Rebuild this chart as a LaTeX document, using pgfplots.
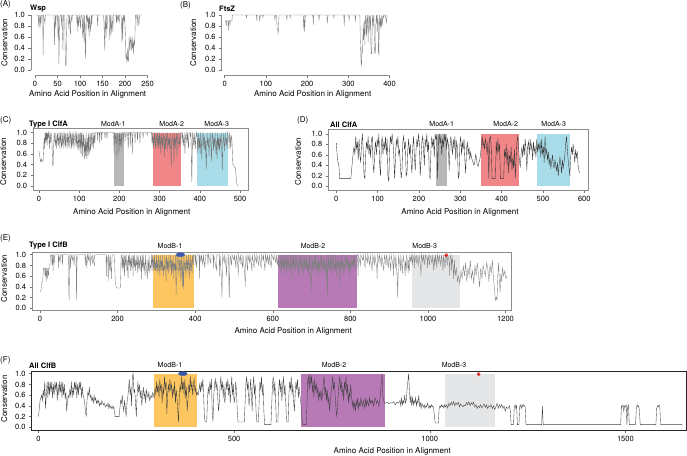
\documentclass[border=0pt]{standalone}
\usepackage{pgfplots}
\pgfplotsset{compat=1.18}
\usepackage{fontspec}
\setmainfont{TeX Gyre Heros}
\definecolor{cModAone}{RGB}{183,183,186}
\definecolor{cModAtwo}{RGB}{240,134,136}
\definecolor{cModAthree}{RGB}{168,220,232}
\definecolor{cModBone}{RGB}{253,198,96}
\definecolor{cModBtwo}{RGB}{183,122,183}
\definecolor{cModBthree}{RGB}{229,230,231}
\definecolor{cBlueMk}{RGB}{58,90,170}
\definecolor{cRedMk}{RGB}{228,38,40}
\pgfplotsset{
  cons/.style={
    scale only axis, anchor=south west,
    label style={font=\fontsize{8}{9}\selectfont},
    tick label style={font=\fontsize{7.5}{8}\selectfont, text=black},
    /pgf/number format/assume math mode=true,
    /pgf/number format/1000 sep={},
    scaled ticks=false,
    tick align=outside,
    major tick length=2.6pt,
    tick style={black!55, line width=0.4pt},
    axis line style={black!45, line width=0.5pt},
    xtick pos=left, ytick pos=left,
    ytick={0,0.2,0.4,0.6,0.8,1},
    yticklabel style={/pgf/number format/.cd, fixed, fixed zerofill, precision=1},
    xlabel={Amino Acid Position in Alignment},
    ylabel={Conservation},
    xlabel style={anchor=center, inner sep=0pt},
    ylabel style={anchor=center, inner sep=0pt},
  },
  dataline/.style={line width=0.35pt, mark=none},
  shade/.style={draw=none, fill=#1},
}
\newcommand{\lab}{\fontsize{7}{8}\selectfont}
\newcommand{\ttl}{\fontsize{7.5}{8}\selectfont\bfseries}
\newcommand{\pan}{\fontsize{8}{9}\selectfont}
\begin{document}
\begin{tikzpicture}
\useasboundingbox (0pt,0pt) rectangle (687pt,455pt);
%================ A: Wsp
\begin{axis}[cons, at={(31pt,380.05pt)}, width=118.8pt, height=62.15pt,
  xmin=-9, xmax=255, ymin=-0.09, ymax=1.04, xtick={0,50,100,150,200,250},
  axis line style={draw=none}, clip=false,
  xlabel style={at={(axis description cs:0.477,-0.311)}},
  ylabel style={at={(axis description cs:-0.223,0.519)}}]
\draw[black!45, line width=0.5pt] (axis cs:0,-0.09) -- (axis cs:250,-0.09);
\draw[black!45, line width=0.5pt] (axis cs:-9,0) -- (axis cs:-9,1);
\addplot[dataline, draw=black!50] coordinates {
(1,1)(7,1)(8,0.8)(9,1)(10,0.9)(11,0.75)(12,1)(13,0.85)(14,1)(17,1)(18,0.27)(19,1)(21,0.9)(22,0.85)(23,1)(42,1)(43,0.45)(44,0.85)(45,1)(46,0.75)(47,1)(50,1)(51,0.6)(52,1)(53,0.1)(54,0.55)(55,0.9)(56,1)(58,1)(59,0.8)(60,1)(62,0.35)(63,1)(66,1)(67,0.3)(68,0.08)(69,0.1)(70,0.6)(71,1)(74,1)(75,0.75)(76,0.9)(77,1)(78,0.7)(79,0.65)(80,1)(82,0.9)(83,1)(92,1)(93,0.85)(94,1)(95,0.7)(96,0.95)(97,0.8)(98,1)(100,0.9)(101,0.75)(102,1)(104,1)(105,0.85)(106,0.6)(107,1)(108,0.7)(109,0.5)(110,1)(111,0.75)(112,0.2)(113,0.55)(114,1)(116,0.9)(117,1)(118,0.75)(119,0.95)(120,0.6)(121,1)(123,0.7)(124,0.85)(125,1)(126,0.8)(127,1)(138,1)(139,0.8)(140,1)(152,1)(153,0.9)(154,0.6)(155,0.35)(156,1)(157,0.8)(158,0.6)(159,1)(160,0.75)(161,0.9)(162,1)(165,1)(166,0.55)(167,0.8)(168,1)(169,0.65)(170,0.75)(171,1)(173,0.7)(174,1)(180,1)(181,0.85)(182,1)(184,0.9)(185,1)(187,0.85)(188,1)(192,1)(193,0.5)(194,0.95)(195,0.55)(196,1)(198,0.9)(199,1)(201,0.6)(202,0.2)(203,0.3)(204,0.15)(205,0.18)(206,0.4)(207,0.15)(208,0.2)(209,0.6)(210,0.5)(211,0.35)(212,0.55)(213,0.6)(214,0.45)(215,0.35)(216,0.6)(217,0.4)(218,0.5)(219,0.3)(220,0.55)(221,0.45)(222,0.6)(223,1)(226,1)(227,0.8)(228,1)(230,0.9)(231,0.8)(232,1)(238,1)
};
\end{axis}
%================ B: FtsZ
\begin{axis}[cons, at={(221.7pt,380.05pt)}, width=172pt, height=62.15pt,
  xmin=-7, xmax=410, ymin=-0.09, ymax=1.04, xtick={0,100,200,300,400},
  axis line style={draw=none}, clip=false,
  xlabel style={at={(axis description cs:0.529,-0.311)}},
  ylabel style={at={(axis description cs:-0.165,0.519)}}]
\draw[black!45, line width=0.5pt] (axis cs:0,-0.09) -- (axis cs:400,-0.09);
\draw[black!45, line width=0.5pt] (axis cs:-7,0) -- (axis cs:-7,1);
\addplot[dataline, draw=black!50] coordinates {
(1,0.9)(3,0.88)(4,0.8)(5,0.9)(8,0.9)(9,0.72)(10,0.88)(12,0.9)(13,0.8)(14,0.9)(18,0.9)(19,1)(52,1)(53,0.95)(54,1)(77,1)(78,0.9)(79,1)(84,1)(85,0.9)(86,0.95)(87,1)(92,1)(93,0.95)(94,1)(121,1)(122,0.9)(123,1)(126,1)(127,0.8)(128,0.75)(129,0.72)(130,0.65)(131,0.85)(132,1)(150,1)(151,0.9)(152,1)(158,1)(159,0.95)(160,1)(190,1)(191,0.9)(192,0.75)(193,1)(194,0.7)(195,0.85)(196,1)(214,1)(215,0.82)(216,1)(228,1)(229,0.9)(230,1)(248,1)(249,0.85)(250,0.95)(251,1)(264,1)(265,0.95)(266,1)(289,1)(290,0.8)(291,1)(301,1)(302,0.9)(303,1)(316,1)(317,0.88)(318,1)(328,1)(329,0.55)(330,0.35)(331,0.1)(332,0.08)(333,0.4)(334,0.3)(335,0.5)(336,0.85)(337,0.55)(338,0.7)(339,0.9)(340,0.45)(341,0.8)(342,1)(343,0.95)(344,0.6)(345,0.8)(346,1)(347,0.9)(348,0.5)(349,0.85)(350,1)(351,0.95)(352,0.7)(353,1)(354,0.9)(355,0.3)(356,0.32)(357,0.3)(358,0.9)(359,1)(360,0.8)(361,0.95)(362,1)(363,0.6)(364,0.3)(365,0.3)(366,0.32)(367,0.9)(368,1)(369,0.85)(370,1)(371,0.7)(372,0.95)(373,0.3)(374,0.28)(375,0.8)(376,1)(377,0.8)(378,0.95)(379,0.75)(380,0.85)(381,1)(382,0.8)(383,0.9)(384,1)(386,0.95)(387,1)(390,1)(392,0.85)(394,1)(396,1)
};
\end{axis}
%================ C: Type I ClfA
\begin{axis}[cons, at={(33.3pt,265pt)}, width=215pt, height=61.7pt,
  xmin=-14.2, xmax=520.6, ymin=-0.08, ymax=1.08, xtick={0,100,200,300,400,500},
  xlabel style={at={(axis description cs:0.458,-0.361)}},
  ylabel style={at={(axis description cs:-0.14,0.459)}}]
\addplot[shade=cModAone] coordinates {(187,0)(187,1)(212,1)(212,0)} -- cycle;
\addplot[shade=cModAtwo] coordinates {(284,0)(284,1)(353,1)(353,0)} -- cycle;
\addplot[shade=cModAthree] coordinates {(393,0)(393,1)(470,1)(470,0)} -- cycle;
\addplot[dataline, draw=black!55] coordinates {
(0,0.65)(2,0.55)(4,0.45)(6,0.5)(8,0.45)(10,0.45)(12,0.8)(13,0.9)(14,0.7)(15,1)(16,0.8)(17,1)(18,0.85)(19,1)(20,0.75)(21,1)(22,0.9)(24,1)(26,0.7)(27,1)(28,0.8)(30,1)(32,0.85)(34,0.4)(35,0.38)(36,0.7)(38,1)(40,0.8)(41,0.75)(42,1)(44,0.7)(45,0.85)(46,1)(48,0.75)(49,0.9)(50,1)(52,0.7)(53,1)(55,0.8)(56,0.7)(57,1)(59,0.75)(60,1)(62,0.7)(63,0.9)(64,1)(66,0.72)(67,1)(69,0.8)(70,0.7)(71,1)(73,0.75)(74,0.95)(75,1)(77,0.7)(78,1)(80,0.85)(81,0.7)(82,1)(84,0.75)(85,1)(87,0.7)(88,0.9)(90,1)(92,0.75)(93,1)(95,0.7)(96,0.8)(97,1)(99,0.65)(100,1)(102,0.7)(103,1)(104,0.6)(105,0.9)(106,1)(107,0.65)(108,0.55)(109,1)(110,0.75)(111,0.95)(112,0.6)(113,0.5)(114,0.9)(116,0.55)(117,1)(118,0.65)(119,0.5)(120,0.9)(121,0.8)(122,0.55)(123,1)(124,0.7)(125,0.6)(126,0.9)(127,1)(128,0.65)(129,0.75)(130,1)(132,0.75)(133,0.8)(134,1)(136,0.7)(137,1)(139,0.8)(140,1)(145,1)(146,0.85)(147,1)(150,1)(151,0.8)(152,1)(155,1)(156,0.85)(157,1)(163,1)(164,0.9)(165,1)(168,1)(169,0.88)(170,1)(185,1)(186,0.85)(187,0.6)(188,1)(190,0.8)(191,1)(193,0.85)(194,0.5)(195,0.9)(196,1)(198,0.8)(199,0.6)(200,1)(202,0.75)(203,0.85)(204,1)(206,0.7)(207,1)(210,1)(211,0.8)(212,1)(215,1)(216,0.85)(217,1)(220,1)(221,0.9)(222,0.7)(223,1)(226,1)(227,0.75)(228,1)(231,1)(232,0.6)(233,0.9)(234,1)(238,1)(239,0.8)(240,1)(244,1)(245,0.85)(246,1)(250,1)(251,0.8)(252,1)(258,1)(259,0.9)(260,1)(268,1)(269,0.95)(270,1)(280,1)(281,0.8)(282,1)(284,0.7)(285,0.9)(286,0.75)(287,1)(289,0.8)(290,0.7)(291,1)(293,0.85)(294,0.7)(295,1)(297,0.75)(298,0.95)(299,0.7)(300,1)(302,0.8)(303,0.6)(304,1)(306,0.75)(307,0.9)(308,0.7)(309,1)(311,0.8)(312,0.55)(313,0.95)(315,0.7)(316,1)(318,0.8)(319,0.65)(320,1)(322,0.75)(323,0.9)(325,0.7)(326,1)(328,0.6)(329,0.35)(330,0.8)(331,1)(333,0.75)(334,0.9)(336,0.45)(337,1)(339,0.7)(340,0.85)(342,1)(343,0.55)(344,0.8)(346,1)(348,0.7)(349,0.9)(351,0.75)(352,1)(355,1)(356,0.8)(357,1)(360,0.75)(361,1)(363,0.6)(364,0.9)(366,1)(368,0.8)(369,1)(372,0.7)(373,1)(376,1)(377,0.9)(378,1)(379,0.5)(380,0.07)(381,0.5)(382,1)(385,0.75)(386,1)(389,0.7)(390,0.9)(392,1)(394,0.8)(395,0.6)(396,1)(398,0.7)(399,0.9)(401,0.6)(402,1)(404,0.75)(405,0.5)(406,0.9)(408,1)(410,0.7)(411,0.95)(413,0.65)(414,0.85)(416,0.3)(417,0.6)(418,1)(420,0.75)(421,0.9)(423,0.55)(424,0.8)(426,1)(428,0.7)(429,0.45)(430,0.85)(432,1)(434,0.65)(435,0.9)(437,0.75)(438,1)(440,0.6)(441,0.85)(443,0.5)(444,1)(446,0.7)(447,0.9)(449,0.65)(450,0.95)(452,0.75)(453,1)(455,0.55)(456,0.3)(457,0.7)(458,1)(460,0.8)(461,0.65)(463,1)(465,0.75)(466,0.9)(468,0.7)(469,1)(472,0.9)(473,0.7)(474,1)(476,0.85)(477,0.7)(478,0.95)(480,0.85)(482,0.4)(484,0.4)(486,0.35)(488,0.35)(490,0.2)(492,0.05)(494,0.0)
};
\end{axis}
%================ D: All ClfA
\begin{axis}[cons, at={(328.3pt,264.5pt)}, width=259.7pt, height=61pt,
  xmin=-19.4, xmax=609, ymin=-0.08, ymax=1.08, xtick={0,100,200,300,400,500,600},
  xlabel style={at={(axis description cs:0.507,-0.357)}},
  ylabel style={at={(axis description cs:-0.117,0.472)}}]
\addplot[shade=cModAone] coordinates {(241,0)(241,1)(269,1)(269,0)} -- cycle;
\addplot[shade=cModAtwo] coordinates {(351,0)(351,1)(443,1)(443,0)} -- cycle;
\addplot[shade=cModAthree] coordinates {(486,0)(486,1)(565,1)(565,0)} -- cycle;
\addplot[dataline, draw=black!80] coordinates {
(0,0.82)(2,0.6)(4,0.45)(6,0.42)(8,0.15)(35,0.15)(38,0.4)(41,0.65)(43,0.75)(45,0.6)(47,0.95)(49,0.7)(51,0.85)(53,0.5)(55,0.9)(57,0.6)(59,0.45)(61,0.8)(63,1)(65,0.7)(67,0.2)(69,0.15)(71,0.6)(73,0.85)(75,0.7)(77,0.95)(79,0.6)(81,0.8)(83,0.55)(85,0.9)(87,0.95)(89,0.4)(91,0.25)(93,0.7)(95,0.85)(97,0.6)(99,0.9)(101,0.75)(103,1)(105,0.4)(107,0.2)(109,0.8)(111,0.95)(113,0.6)(115,0.85)(117,0.7)(119,0.95)(121,0.6)(123,0.9)(125,0.15)(127,0.1)(129,0.7)(131,0.95)(133,0.8)(135,1)(137,0.85)(139,0.6)(141,0.15)(143,0.5)(145,0.9)(147,0.75)(149,0.95)(151,0.6)(153,0.7)(155,0.4)(157,0.15)(159,0.3)(161,0.85)(163,0.95)(165,0.7)(167,0.85)(169,0.2)(171,0.25)(173,0.7)(175,0.9)(177,0.6)(179,0.8)(181,0.45)(183,0.25)(185,0.75)(187,0.95)(189,0.55)(191,0.3)(193,0.7)(195,0.9)(197,0.75)(199,1)(201,0.8)(203,0.2)(205,0.5)(207,0.85)(209,0.95)(211,0.7)(213,0.4)(215,0.9)(217,0.75)(219,1)(221,0.65)(223,0.85)(225,0.2)(227,0.15)(229,0.7)(231,0.95)(233,0.75)(235,0.9)(237,0.55)(239,1)(241,0.9)(243,0.95)(245,0.15)(247,0.85)(249,1)(251,0.8)(253,0.95)(255,0.6)(257,0.9)(259,0.75)(261,1)(263,0.85)(265,0.95)(267,0.7)(269,0.9)(271,0.8)(273,0.3)(275,0.75)(277,0.95)(279,0.8)(281,0.6)(283,0.9)(285,0.7)(287,0.95)(289,0.5)(291,0.85)(293,0.75)(295,0.15)(297,0.2)(299,0.8)(301,0.95)(303,0.6)(305,0.85)(307,0.7)(309,0.9)(311,0.5)(313,0.25)(315,0.7)(317,0.85)(319,0.6)(321,0.75)(323,0.5)(325,0.65)(327,0.55)(329,0.5)(331,0.45)(333,0.4)(335,0.45)(337,0.6)(339,0.55)(341,0.4)(343,0.38)(345,0.45)(347,0.5)(349,0.6)(351,0.8)(353,0.95)(355,0.75)(357,0.85)(359,0.7)(361,0.9)(363,0.8)(365,0.6)(367,0.85)(369,0.15)(371,0.9)(373,0.95)(375,0.7)(377,0.15)(379,0.15)(385,0.15)(387,0.85)(389,0.6)(391,0.9)(393,0.65)(395,0.8)(397,0.15)(405,0.15)(407,0.7)(409,0.55)(411,0.8)(413,0.4)(415,0.7)(417,0.25)(419,0.6)(421,0.45)(423,0.75)(425,0.3)(427,0.55)(429,0.35)(431,0.7)(433,0.15)(435,0.5)(437,0.85)(439,0.95)(441,0.75)(443,0.5)(445,0.35)(447,0.6)(449,0.75)(451,0.55)(453,0.8)(455,0.6)(457,0.9)(459,0.7)(461,0.3)(463,0.75)(465,0.85)(467,0.6)(469,0.9)(471,0.7)(473,0.8)(475,0.5)(477,0.85)(479,0.65)(481,0.75)(483,0.55)(485,0.9)(487,0.65)(489,0.8)(491,0.7)(493,0.85)(495,0.55)(497,0.9)(499,0.6)(501,0.75)(503,0.45)(505,0.95)(507,0.6)(509,0.7)(511,0.5)(513,0.65)(515,0.4)(517,0.55)(519,0.35)(521,0.45)(523,0.6)(525,0.4)(527,0.35)(529,0.5)(531,0.4)(533,0.3)(535,0.45)(537,0.2)(539,0.4)(541,0.55)(543,0.45)(545,0.25)(547,0.5)(549,0.35)(551,0.45)(553,0.6)(555,0.8)(557,0.95)(559,0.7)(561,0.5)(563,0.35)(565,0.2)(567,0.55)(569,0.75)(571,0.6)(573,0.8)(575,0.65)(577,0.45)(579,0.7)(581,0.55)(583,0.65)(585,0.4)(587,0.3)(589,0.25)
};
\end{axis}
%================ E: Type I ClfB
\begin{axis}[cons, at={(32.3pt,144.5pt)}, width=478.7pt, height=58.5pt,
  xmin=-19.8, xmax=1214, ymin=-0.041, ymax=1.05, xtick={0,200,400,600,800,1000,1200},
  xlabel style={at={(axis description cs:0.545,-0.356)}},
  ylabel style={at={(axis description cs:-0.059,0.544)}}]
\addplot[shade=cModBone] coordinates {(292,0)(292,1)(398,1)(398,0)} -- cycle;
\addplot[shade=cModBtwo] coordinates {(613,0)(613,1)(818,1)(818,0)} -- cycle;
\addplot[shade=cModBthree] coordinates {(959,0)(959,1)(1082,1)(1082,0)} -- cycle;
\addplot[dataline, draw=black!50] coordinates {
(0,0.3)(3,0.35)(5,0.5)(7,0.5)(9,0.75)(12,0.75)(13,0.6)(14,0.75)(16,0.5)(17,0.75)(19,0.55)(20,0.75)(22,0.6)(23,0.75)(25,0.75)(27,1)
(30,1)(31,0.8)(32,1)(34,0.7)(35,1)(37,0.85)(38,1)
(47,1)(48,0.75)(49,1)(52,0.85)(53,1)(57,1)(58,0.8)(59,1)
(73,1)(74,0.4)(75,0.15)(76,0.6)(77,1)(79,0.75)(80,1)(84,0.9)(85,1)(88,0.8)(89,1)
(93,1)(94,0.15)(95,0.7)(96,1)
(116,1)(117,0.8)(118,1)(121,0.75)(122,1)(125,0.9)(126,1)(130,0.8)(131,1)(135,0.85)(136,1)(140,0.78)(141,1)
(170,1)(171,0.6)(172,1)(175,0.85)(176,0.5)(177,1)(180,0.7)(181,1)(184,0.55)(185,0.8)(186,1)
(192,1)(193,0.7)(194,0.5)(197,0.38)(207,0.38)(208,0.6)(209,1)
(211,1)(212,0.7)(213,0.95)(215,0.75)(216,1)(218,0.6)(219,1)(221,0.8)(222,1)(224,0.7)(225,0.9)(227,0.55)(228,1)(230,0.8)(231,1)(233,0.7)(234,0.95)(236,0.75)(237,1)(239,0.85)(240,0.6)(241,1)(243,0.75)(244,1)(246,0.7)(247,0.9)(249,0.8)(250,1)(252,0.65)(253,1)(255,0.75)(256,0.9)(258,0.7)(259,1)(261,0.8)(262,0.55)(263,1)(265,0.75)(266,1)(268,0.7)(269,0.85)(271,0.6)(272,1)(274,0.8)(275,0.7)(277,0.55)(278,0.9)(280,0.7)(281,1)(283,0.65)(284,0.8)(286,0.75)(287,1)
(289,0.7)(290,1)(292,0.75)(293,0.9)(294,0.7)(295,1)(297,0.7)(298,0.85)(299,0.7)(300,1)(302,0.65)(303,0.9)(305,0.7)(306,1)(308,0.75)(309,0.6)(310,1)(312,0.7)(313,0.9)(315,0.7)(316,1)(318,0.6)(319,0.8)(321,0.7)(322,1)(324,0.75)(325,0.5)(326,1)(328,0.7)(329,0.9)(331,0.65)(332,1)(334,0.8)(335,0.7)(337,1)(339,0.6)(340,0.9)(342,0.7)(343,1)(345,0.55)(346,0.85)(348,0.7)(349,1)(351,0.25)(352,0.7)(353,1)(355,0.8)(356,0.6)(358,1)(360,0.7)(361,0.9)(363,0.5)(364,1)(366,0.7)(367,0.4)(368,0.9)(370,0.35)(371,1)(373,0.7)(374,0.85)(376,0.6)(377,1)(379,0.7)(380,0.9)(382,0.65)(383,1)(385,0.75)(386,0.55)(387,1)(389,0.7)(390,0.9)(392,0.65)(393,1)(395,0.8)(396,1)
(399,1)(400,0.8)(401,1)(404,0.75)(405,1)(410,1)(411,0.55)(412,1)(415,0.85)(416,1)(420,0.8)(421,1)(425,0.75)(426,0.9)(427,1)(432,1)(433,0.8)(434,1)(440,0.85)(441,1)(446,1)(447,0.75)(448,1)(455,0.7)(456,1)(462,1)(463,0.6)(464,1)(468,0.5)(469,0.2)(470,0.6)(471,1)(475,0.85)(476,1)(480,0.75)(481,0.6)(482,1)
(486,1)(487,0.4)(488,0.2)(489,0.7)(490,1)(494,0.8)(495,1)(500,0.9)(501,1)(505,0.75)(506,1)(510,0.8)(511,0.6)(512,1)(516,0.85)(517,1)(522,0.75)(523,1)(528,0.6)(529,0.4)(530,0.8)(531,1)(535,0.7)(536,1)(540,0.85)(541,1)(545,0.8)(546,0.7)(547,1)(552,0.75)(553,1)(558,0.85)(559,1)(564,0.8)(565,1)(570,0.75)(571,1)(575,0.9)(576,1)(580,0.7)(581,1)(585,0.85)(586,1)(590,0.8)(591,1)(596,0.75)(597,1)(602,0.9)(603,1)(608,0.85)(609,1)
(612,0.8)(614,1)(616,0.75)(617,0.9)(619,0.7)(620,1)(622,0.8)(623,0.65)(624,1)(626,0.75)(627,1)(629,0.7)(630,0.9)(632,0.7)(633,1)(635,0.8)(636,0.6)(637,1)(639,0.75)(640,1)(642,0.7)(643,0.85)(645,0.7)(646,1)(648,0.8)(649,0.55)(650,1)(652,0.75)(653,1)(655,0.7)(656,0.9)(658,0.7)(659,1)(661,0.8)(662,1)(664,0.7)(665,0.85)(667,0.6)(668,1)(670,0.75)(671,1)(673,0.7)(674,0.9)(676,0.7)(677,1)(679,0.8)(680,0.6)(681,1)(683,0.7)(684,0.9)(686,0.75)(687,1)(689,0.7)(690,0.85)(692,0.6)(693,1)(695,0.75)(696,1)(698,0.5)(699,0.3)(700,0.8)(701,1)(703,0.7)(704,0.9)(706,0.65)(707,1)(709,0.75)(710,1)(712,0.7)(713,0.85)(715,0.7)(716,1)(718,0.6)(719,0.9)(721,0.7)(722,1)(724,0.8)(725,0.65)(726,1)(728,0.75)(729,0.9)(731,0.7)(732,1)(734,0.7)(735,0.85)(737,0.5)(738,1)(740,0.75)(741,0.2)(742,0.8)(743,1)(745,0.7)(746,0.9)(748,0.7)(749,1)(751,0.8)(752,0.6)(753,1)(755,0.75)(756,1)(758,0.7)(759,0.85)(761,0.7)(762,1)(764,0.6)(765,0.9)(767,0.75)(768,1)(770,0.7)(771,0.85)(773,0.4)(774,1)(776,0.7)(777,0.9)(779,0.75)(780,1)(782,0.65)(783,0.85)(785,0.7)(786,1)(788,0.8)(789,0.7)(790,1)(792,0.75)(793,0.9)(795,0.7)(796,1)(798,0.6)(799,0.85)(801,0.75)(802,1)(804,0.7)(805,0.9)(807,0.8)(808,1)(810,0.7)(811,1)(813,0.8)(814,0.75)(815,1)
(818,1)(819,0.85)(820,0.6)(821,1)(826,0.8)(827,1)(832,0.9)(833,1)(838,0.75)(839,1)(844,0.85)(845,1)(850,0.8)(851,1)(856,0.7)(857,0.9)(858,1)(862,0.8)(863,1)(868,0.75)(869,0.55)(870,1)(874,0.85)(875,1)(880,0.8)(881,1)(886,0.7)(887,0.85)(888,1)(892,0.8)(893,1)(898,0.75)(899,0.9)(900,1)(904,0.7)(905,1)(910,0.8)(911,0.6)(912,1)(916,0.75)(917,1)(921,0.5)(922,0.2)(923,0.6)(924,1)(928,0.8)(929,0.7)(930,1)(934,0.65)(935,0.85)(936,1)(940,0.75)(941,0.6)(942,0.9)(944,0.7)(945,1)(948,0.8)(949,0.65)(950,0.9)(952,0.7)(953,1)
(956,0.85)(957,1)(960,0.8)(961,1)(964,0.9)(965,0.75)(966,1)(970,0.85)(971,1)(975,0.8)(976,0.9)(977,1)(981,0.75)(982,0.6)(983,1)(987,0.85)(988,1)(992,0.8)(993,1)(998,0.9)(999,0.75)(1000,1)(1004,0.8)(1005,1)(1010,0.85)(1011,1)(1015,0.7)(1016,0.95)(1018,0.8)(1019,1)(1023,0.75)(1024,1)(1028,0.85)(1029,1)(1033,0.8)(1034,0.9)(1035,1)(1039,0.7)(1040,1)(1044,0.75)(1045,0.9)(1046,1)(1050,0.8)(1051,1)(1055,0.85)(1056,0.6)(1057,1)(1060,0.9)(1061,0.7)(1062,1)(1065,0.75)(1066,0.55)(1068,0.9)(1070,0.6)
(1073,0.75)(1076,0.5)(1079,0.6)(1082,0.45)(1085,0.7)(1088,0.55)(1091,0.8)(1094,0.6)(1097,0.85)(1100,0.5)(1103,0.75)(1106,0.6)(1109,0.9)(1112,0.55)(1115,0.7)(1118,0.45)(1121,0.8)(1124,0.6)(1127,0.85)(1130,0.65)(1133,0.4)(1136,0.75)(1139,0.55)(1142,0.8)(1145,0.7)(1148,0.6)(1151,0.85)(1154,0.75)(1157,0.5)(1160,0.8)(1163,0.65)(1166,0.9)(1169,0.55)(1172,0.3)(1174,0.15)(1176,0.2)(1178,0.15)(1180,0.6)(1182,0.85)(1184,0.5)(1186,0.3)(1188,0.65)(1190,0.5)(1192,0.75)(1195,0.6)(1198,0.7)(1201,0.55)(1204,0.6)
};
\addplot[only marks, mark=*, mark size=2pt, mark options={xscale=2.2, fill=cBlueMk, draw=cBlueMk}] coordinates {(362,1.0)};
\addplot[only marks, mark=*, mark size=1.6pt, mark options={fill=cRedMk, draw=cRedMk}] coordinates {(1047,0.99)};
\end{axis}
%================ F: All ClfB
\begin{axis}[cons, at={(31.7pt,25pt)}, width=654.3pt, height=59pt,
  xmin=-17.4, xmax=1655, ymin=-0.05, ymax=1.05, xtick={0,500,1000,1500},
  axis line style={black!85},
  xlabel style={at={(axis description cs:0.551,-0.356)}},
  ylabel style={at={(axis description cs:-0.042,0.525)}}]
\addplot[shade=cModBone] coordinates {(295,0)(295,1)(406,1)(406,0)} -- cycle;
\addplot[shade=cModBtwo] coordinates {(672,0)(672,1)(886,1)(886,0)} -- cycle;
\addplot[shade=cModBthree] coordinates {(1040,0)(1040,1)(1167,1)(1167,0)} -- cycle;
\addplot[dataline, draw=black!75] coordinates {
(0,0.2)(2,0.35)(4,0.5)(6,0.55)(8,0.6)(10,0.5)(12,0.7)(14,0.55)(16,0.85)(18,0.35)(20,0.6)(22,0.85)(24,0.55)(26,0.85)(28,0.6)(30,0.85)(32,0.65)(34,0.85)(36,0.55)(38,0.8)(40,0.6)(42,0.85)(44,0.7)(46,0.85)(48,0.5)(50,0.8)(52,0.6)(54,0.85)(56,0.65)(58,0.85)(60,0.55)(62,0.85)(64,0.6)(66,0.8)(68,0.55)(70,0.65)(72,0.3)(74,0.5)(76,0.6)(78,0.55)(80,0.7)(82,0.6)(84,0.85)(86,0.55)(88,0.75)(90,0.6)(92,0.85)(94,0.7)(96,0.85)(98,0.55)(100,0.8)(102,0.6)(104,0.85)(106,0.7)(108,0.85)(110,0.55)(112,0.75)(114,0.6)(116,0.55)(118,0.45)(120,0.3)(122,0.2)(124,0.5)(126,0.65)(128,0.6)(130,0.75)(132,0.55)(134,0.6)(136,0.5)(138,0.55)(140,0.45)(142,0.6)(144,0.5)(146,0.55)(148,0.45)(150,0.5)(152,0.45)(154,0.5)(156,0.4)(158,0.45)(160,0.42)(162,0.5)(164,0.45)(166,0.42)(168,0.45)(170,0.4)(172,0.38)(174,0.42)(176,0.4)(178,0.45)(180,0.35)(182,0.42)(184,0.38)(186,0.35)(188,0.4)(190,0.35)(192,0.38)(194,0.3)(196,0.2)(206,0.2)(208,0.35)(210,0.5)(212,0.45)(214,0.6)(216,0.4)(218,0.3)(220,0.5)(222,0.35)(224,0.2)(226,0.45)(228,0.55)(230,0.7)(232,0.9)(234,0.6)(236,0.75)(238,0.4)(240,0.95)(242,1)(244,0.65)(246,0.7)(248,0.45)(250,0.2)(252,0.6)(254,0.85)(256,0.65)(258,0.8)(260,0.55)(262,0.7)(264,0.4)(266,0.6)(268,0.75)(270,0.55)(272,0.65)(274,0.45)(276,0.7)(278,0.6)(280,0.55)(282,0.65)(284,0.5)(286,0.55)(288,0.6)(290,0.55)(292,0.65)
(294,0.6)(296,0.55)(298,0.75)(300,0.6)(302,0.85)(304,0.65)(306,0.8)(308,0.55)(310,0.9)(312,0.7)(314,0.8)(316,0.45)(318,0.75)(320,0.6)(322,0.95)(324,0.7)(326,0.85)(328,0.25)(330,0.6)(332,0.8)(334,0.65)(336,0.9)(338,0.7)(340,0.8)(342,0.55)(344,0.75)(346,0.6)(348,0.85)(350,0.45)(352,0.7)(354,0.55)(356,0.3)(358,0.1)(360,0.6)(362,0.8)(364,0.65)(366,0.95)(368,0.7)(370,0.85)(372,0.6)(374,0.9)(376,0.55)(378,0.75)(380,0.3)(382,0.5)(384,0.8)(386,0.65)(388,0.95)(390,0.7)(392,0.85)(394,0.6)(396,0.8)(398,0.9)(400,0.65)(402,0.75)(404,0.6)(406,0.65)
(408,0.6)(410,0.7)(412,0.8)(414,0.65)(416,0.85)(418,0.7)(420,0.9)(422,0.6)(424,0.2)(426,0.1)(430,0.1)(432,0.55)(434,0.75)(436,0.6)(438,0.85)(440,0.7)(442,0.9)(444,0.3)(446,0.1)(448,0.6)(450,0.8)(452,0.9)(454,0.7)(456,0.85)(458,0.6)(460,0.3)(462,0.45)(464,0.75)(466,0.95)(468,0.7)(470,0.85)(472,0.55)(474,0.8)(476,0.45)(478,0.6)(480,0.85)(482,0.7)(484,0.9)(486,0.6)(488,0.8)(490,0.45)(492,0.7)(494,0.95)(496,0.6)(498,0.8)(500,0.45)
(502,0.55)(504,0.85)(506,0.7)(508,0.3)(510,0.1)(526,0.1)(528,0.45)(530,0.8)(532,0.95)(534,0.7)(536,0.85)(538,0.4)(540,0.55)(542,0.9)(544,0.65)(546,0.3)(548,0.75)(550,0.95)(552,0.6)(554,0.8)(556,0.3)(558,0.1)(562,0.1)(564,0.5)(566,0.85)(568,0.7)(570,0.95)(572,0.6)(574,0.8)(576,0.3)(578,0.05)(594,0.05)(596,0.4)(598,0.8)(600,0.95)(602,0.6)(604,0.85)(606,0.5)(608,0.1)(612,0.1)(614,0.7)(616,0.9)(618,0.65)(620,0.85)(622,0.5)(624,0.75)(626,0.95)(628,0.6)(630,0.8)(632,0.45)(634,0.1)(638,0.1)(640,0.6)(642,0.85)(644,0.7)(646,0.95)(648,0.6)(650,0.8)(652,0.5)(654,0.3)(656,0.6)(658,0.85)(660,0.7)(662,0.9)(664,0.55)(666,0.75)(668,0.6)(670,0.5)
(672,0.3)(674,0.1)(676,0.05)(684,0.05)(686,0.4)(688,0.85)(690,0.95)(692,0.7)(694,1)(696,0.8)(698,0.95)(700,0.65)(702,0.85)(704,0.55)(706,0.9)(708,0.7)(710,0.8)(712,0.6)(714,0.75)(716,0.5)(718,0.65)(720,0.55)(722,0.7)(724,0.5)(726,0.6)(728,0.85)(730,0.95)(732,0.6)(734,0.75)(736,0.5)(738,0.7)(740,0.45)(742,0.55)(744,0.3)(746,0.5)(748,0.65)(750,0.8)(752,0.95)(754,0.7)(756,0.85)(758,0.6)(760,0.4)(762,0.2)(764,0.35)(766,0.6)(768,0.8)(770,0.95)(772,0.7)(774,0.85)(776,0.6)(778,0.75)(780,0.5)(782,0.85)(784,0.7)(786,0.95)(788,0.6)(790,0.8)(792,0.45)(794,0.65)(796,0.55)(798,0.8)(800,0.6)(802,0.4)(804,0.5)(806,0.35)(808,0.45)(810,0.3)(812,0.5)(814,0.4)(816,0.55)(818,0.35)(820,0.45)(822,0.4)(824,0.55)(826,0.45)(828,0.4)(830,0.5)(832,0.45)(834,0.35)(836,0.55)(838,0.4)(840,0.5)(842,0.45)(844,0.4)(846,0.55)(848,0.45)(850,0.5)(852,0.45)(854,0.5)(856,0.4)(858,0.45)(860,0.55)(862,0.5)(864,0.45)(866,0.5)(868,0.45)(870,0.4)(872,0.5)(874,0.6)(876,0.85)(878,1)(880,0.6)(882,0.5)(884,0.47)(886,0.45)
(888,0.45)(892,0.47)(896,0.44)(900,0.46)(904,0.45)(908,0.48)(912,0.42)(916,0.47)(920,0.45)(924,0.5)(926,0.4)(928,0.55)(930,0.42)(932,0.5)(934,0.45)(936,0.6)(938,0.45)(940,0.5)(942,0.7)(944,0.85)(946,1)(948,0.7)(950,0.45)(952,0.6)(954,0.4)(956,0.55)(958,0.42)(960,0.5)(962,0.45)(964,0.55)(966,0.4)(968,0.5)(970,0.45)(972,0.6)(974,0.4)(976,0.45)(978,0.35)(980,0.45)(982,0.4)(984,0.38)(986,0.42)(988,0.35)(990,0.4)(992,0.38)(994,0.45)(996,0.4)(998,0.35)(1000,0.4)(1002,0.37)(1004,0.42)(1006,0.38)(1008,0.4)(1010,0.35)(1012,0.2)(1014,0.08)(1022,0.08)(1024,0.35)(1026,0.4)(1028,0.37)(1030,0.42)(1032,0.38)(1034,0.4)(1036,0.36)(1038,0.42)
(1040,0.38)(1043,0.42)(1046,0.36)(1049,0.45)(1052,0.4)(1055,0.47)(1058,0.42)(1061,0.48)(1064,0.4)(1067,0.46)(1070,0.42)(1073,0.47)(1076,0.38)(1079,0.44)(1082,0.4)(1085,0.38)(1088,0.42)(1091,0.4)(1094,0.46)(1097,0.42)(1100,0.48)(1103,0.4)(1106,0.46)(1109,0.42)(1112,0.47)(1115,0.38)(1118,0.42)(1121,0.35)(1124,0.4)(1127,0.37)(1130,0.42)(1133,0.36)(1136,0.4)(1139,0.44)(1142,0.37)(1145,0.42)(1148,0.35)(1151,0.4)(1154,0.38)(1157,0.42)(1160,0.35)(1163,0.4)(1166,0.33)
(1169,0.38)(1172,0.45)(1175,0.35)(1178,0.42)(1181,0.37)(1184,0.43)(1187,0.35)(1190,0.4)(1193,0.3)(1196,0.38)(1200,0.35)(1204,0.4)(1206,0.3)(1208,0.05)(1214,0.05)(1216,0.38)(1218,0.42)(1220,0.35)(1222,0.4)(1224,0.05)(1228,0.05)(1230,0.4)(1232,0.42)(1234,0.35)(1236,0.42)(1238,0.38)(1240,0.42)(1244,0.38)(1246,0.05)(1286,0.05)(1288,0.4)(1290,0.05)(1488,0.05)(1490,0.4)(1492,0.38)(1494,0.42)(1496,0.3)(1498,0.4)(1500,0.38)(1502,0.42)(1504,0.05)(1506,0.38)(1508,0.42)(1510,0.05)(1526,0.05)(1528,0.35)(1530,0.42)(1532,0.38)(1534,0.4)(1536,0.3)(1538,0.05)(1578,0.05)(1580,0.35)(1582,0.4)(1584,0.38)(1586,0.42)(1588,0.4)(1590,0.05)(1646,0.05)
};
\addplot[only marks, mark=*, mark size=2pt, mark options={xscale=2.2, fill=cBlueMk, draw=cBlueMk}] coordinates {(369,1.0)};
\addplot[only marks, mark=*, mark size=1.6pt, mark options={fill=cRedMk, draw=cRedMk}] coordinates {(1125,0.99)};
\end{axis}
%================ texts
\begin{scope}[every node/.style={inner sep=0pt}]
\node[anchor=west, font=\pan] at (0pt,451pt) {(A)};
\node[anchor=west, font=\ttl] at (30pt,446pt) {Wsp};
\node[anchor=west, font=\pan] at (180pt,450pt) {(B)};
\node[anchor=west, font=\ttl] at (219pt,445.7pt) {FtsZ};
\node[anchor=west, font=\pan] at (0pt,335pt) {(C)};
\node[anchor=west, font=\ttl] at (29pt,330.7pt) {Type I ClfA};
\node[font=\lab] at (113.3pt,330.7pt) {ModA-1};
\node[font=\lab] at (171.7pt,330.7pt) {ModA-2};
\node[font=\lab] at (216.7pt,330.7pt) {ModA-3};
\node[anchor=west, font=\pan] at (297pt,335pt) {(D)};
\node[anchor=west, font=\ttl] at (330pt,330.7pt) {All ClfA};
\node[font=\lab] at (441.7pt,330.7pt) {ModA-1};
\node[font=\lab] at (505.7pt,330.7pt) {ModA-2};
\node[font=\lab] at (553.7pt,330.7pt) {ModA-3};
\node[anchor=west, font=\pan] at (0pt,216.3pt) {(E)};
\node[anchor=west, font=\ttl] at (29pt,209pt) {Type I ClfB};
\node[font=\lab] at (170pt,209pt) {ModB-1};
\node[font=\lab] at (313pt,209pt) {ModB-2};
\node[font=\lab] at (424.7pt,209pt) {ModB-3};
\node[anchor=west, font=\pan] at (0pt,95pt) {(F)};
\node[anchor=west, font=\ttl] at (29pt,89pt) {All ClfB};
\node[font=\lab] at (170pt,89.5pt) {ModB-1};
\node[font=\lab] at (334pt,89.5pt) {ModB-2};
\node[font=\lab] at (454pt,89.5pt) {ModB-3};
\end{scope}
\end{tikzpicture}
\end{document}
